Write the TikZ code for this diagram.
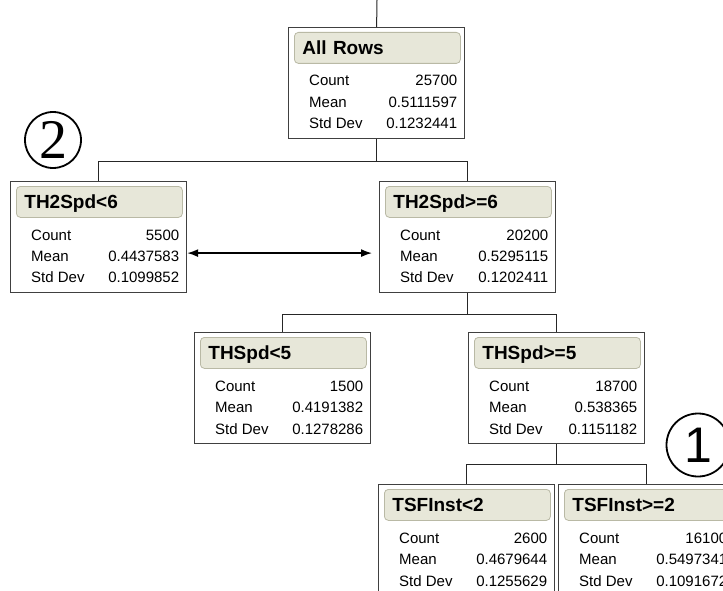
\documentclass[tikz,border=0pt]{standalone}
\usepackage{fontspec}
\setmainfont{Liberation Sans}
\newfontfamily\tagserif{Liberation Serif}
\usetikzlibrary{arrows.meta}
\definecolor{headfill}{RGB}{231,231,217}
\definecolor{headline}{RGB}{185,185,165}
\begin{document}
\begin{tikzpicture}[x=1pt, y=-1pt,
    box/.style={draw=black!75, line width=1.2pt, fill=white, minimum width=176pt, minimum height=111pt, inner sep=0pt, anchor=north west},
    head/.style={draw=headline, fill=headfill, line width=0.8pt, rounded corners=4pt, text width=150pt, inner xsep=8pt, inner ysep=0pt, minimum height=31pt, text height=14pt, text depth=0pt, font=\fontsize{19}{22}\selectfont\bfseries, anchor=north west},
    stats/.style={inner sep=0pt, anchor=base west, font=\fontsize{15}{21.5}\selectfont},
    link/.style={line width=1pt, black!85},
    tag/.style={circle, draw=black, line width=1.8pt, inner sep=0pt}]
    \clip (0,0) rectangle (723,591);
    \fill[white] (0,0) rectangle (723,591);

    \node[box] (all) at (288,27) {};
    \node[head] (allh) at ([shift={(6,5)}]all.north west) {All Rows};
    \node[stats] (alls) at ([shift={(21,59)}]all.north west) {\begin{tabular*}{148pt}[t]{@{}l@{\extracolsep{\fill}}r@{}}Count & 25700\\ Mean & 0.5111597\\ Std Dev & 0.1232441\end{tabular*}};

    \node[box] (lo) at (10,181) {};
    \node[head] (loh) at ([shift={(6,5)}]lo.north west) {TH2Spd<6};
    \node[stats] (los) at ([shift={(21,59)}]lo.north west) {\begin{tabular*}{148pt}[t]{@{}l@{\extracolsep{\fill}}r@{}}Count & 5500\\ Mean & 0.4437583\\ Std Dev & 0.1099852\end{tabular*}};

    \node[box] (hi) at (379,181) {};
    \node[head] (hih) at ([shift={(6,5)}]hi.north west) {TH2Spd>=6};
    \node[stats] (his) at ([shift={(21,59)}]hi.north west) {\begin{tabular*}{148pt}[t]{@{}l@{\extracolsep{\fill}}r@{}}Count & 20200\\ Mean & 0.5295115\\ Std Dev & 0.1202411\end{tabular*}};

    \node[box] (thlo) at (194,332) {};
    \node[head] (thloh) at ([shift={(6,5)}]thlo.north west) {THSpd<5};
    \node[stats] (thlos) at ([shift={(21,59)}]thlo.north west) {\begin{tabular*}{148pt}[t]{@{}l@{\extracolsep{\fill}}r@{}}Count & 1500\\ Mean & 0.4191382\\ Std Dev & 0.1278286\end{tabular*}};

    \node[box] (thhi) at (468,332) {};
    \node[head] (thhih) at ([shift={(6,5)}]thhi.north west) {THSpd>=5};
    \node[stats] (thhis) at ([shift={(21,59)}]thhi.north west) {\begin{tabular*}{148pt}[t]{@{}l@{\extracolsep{\fill}}r@{}}Count & 18700\\ Mean & 0.538365\\ Std Dev & 0.1151182\end{tabular*}};

    \node[box] (tslo) at (378,484) {};
    \node[head] (tsloh) at ([shift={(6,5)}]tslo.north west) {TSFInst<2};
    \node[stats] (tslos) at ([shift={(21,59)}]tslo.north west) {\begin{tabular*}{148pt}[t]{@{}l@{\extracolsep{\fill}}r@{}}Count & 2600\\ Mean & 0.4679644\\ Std Dev & 0.1255629\end{tabular*}};

    \node[box] (tshi) at (558,484) {};
    \node[head] (tshih) at ([shift={(6,5)}]tshi.north west) {TSFInst>=2};
    \node[stats] (tshis) at ([shift={(21,59)}]tshi.north west) {\begin{tabular*}{148pt}[t]{@{}l@{\extracolsep{\fill}}r@{}}Count & 16100\\ Mean & 0.5497341\\ Std Dev & 0.1091672\end{tabular*}};

    \node[tag, minimum size=56pt] (two) at (53,140) {\tagserif\fontsize{56}{56}\selectfont 2};
    \node[tag, minimum size=63pt] (one) at (698,445) {\fontsize{50}{50}\selectfont 1};

    \coordinate (top) at (377,0);
    \draw[link] (top) -- (all.north);
    \draw[link] (all.south) -- ++(0,22) -| (lo.north);
    \draw[link] (all.south) -- ++(0,22) -| (hi.north);
    \draw[link] (hi.south) -- ++(0,21) -| (thlo.north);
    \draw[link] (hi.south) -- ++(0,21) -| (thhi.north);
    \draw[link] (thhi.south) -- ++(0,20) -| (tslo.north);
    \draw[link] (thhi.south) -- ++(0,20) -| (tshi.north);

    \draw[line width=1.5pt, {Latex[length=11pt,width=8pt]}-{Latex[length=11pt,width=8pt]}, shorten >=7pt] ([yshift=-16pt]lo.east) -- ([yshift=-16pt]hi.west);
\end{tikzpicture}
\end{document}
